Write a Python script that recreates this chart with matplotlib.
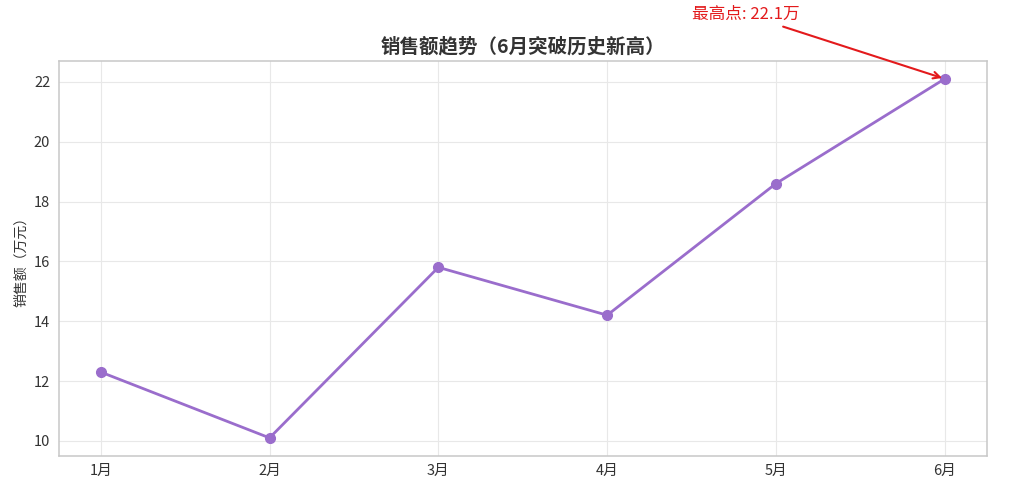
import matplotlib
matplotlib.use('Agg')
import matplotlib.pyplot as plt

plt.rcParams['font.family'] = ['Noto Sans CJK SC', 'DejaVu Sans']
plt.rcParams['axes.unicode_minus'] = False

# ── 数据
months = ['1月', '2月', '3月', '4月', '5月', '6月']
sales = [12.3, 10.1, 15.8, 14.2, 18.6, 22.1]

fig, ax = plt.subplots(figsize=(10.27, 4.87), dpi=100)

x = list(range(len(months)))
ax.plot(x, sales, color='#9a6dcc', linewidth=2, marker='o', markersize=7)

ax.set_xticks(x)
ax.set_xticklabels(months)
ax.tick_params(labelsize=10.5, colors='#333333', length=0, pad=6)
ax.set_ylabel('销售额（万元）', fontsize=10, color='#333333')
ax.set_title('销售额趋势（6月突破历史新高）', fontsize=14, fontweight='bold',
             color='#333333')

ax.grid(True, color='#e8e8e8', linewidth=0.8)
ax.set_axisbelow(True)
for s in ax.spines.values():
    s.set_color('#c8c8c8')
    s.set_linewidth(1.1)

# 最高点标注
imax = sales.index(max(sales))
ax.annotate(f'最高点: {sales[imax]}万', xy=(imax, sales[imax]),
            xytext=(3.82, 24.25), fontsize=12, color='#e31a1c',
            ha='center', va='center', annotation_clip=False,
            arrowprops=dict(arrowstyle='->', color='#e31a1c', lw=1.5))

fig.subplots_adjust(left=0.057, right=0.961, top=0.875, bottom=0.064)
fig.savefig('out.png', dpi=100, facecolor='white')
